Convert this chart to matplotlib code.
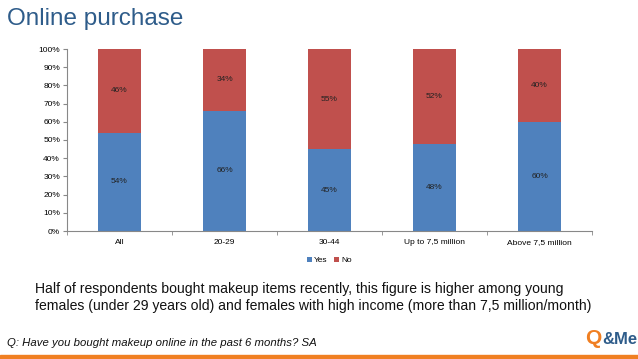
import numpy as np
from matplotlib import pyplot as plt
from matplotlib.ticker import PercentFormatter

plt.rcParams['font.family'] = ['Liberation Sans', 'DejaVu Sans']

categories = ["All", "20-29", "30-44", "Up to 7,5 million", "Above 7,5 million"]
yes_values = [54, 66, 45, 48, 60]
no_values = [46, 34, 55, 52, 40]

blue = "#4F81BD"
red = "#C0504D"

W, H = 638, 359
fig = plt.figure(figsize=(W / 100, H / 100), dpi=100)

# axes placement in pixels
left, right, top, bottom = 67, 592, 49, 231
ax = fig.add_axes([left / W, 1 - bottom / H, (right - left) / W, (bottom - top) / H])

x = np.arange(len(categories))
bw = 0.41
ax.bar(x, yes_values, bw, color=blue, label="Yes")
ax.bar(x, no_values, bw, bottom=yes_values, color=red, label="No")

for i in range(len(categories)):
    ax.text(x[i], yes_values[i] / 2, f"{yes_values[i]}%", ha="center", va="center",
            fontsize=6, color="#222222")
    ax.text(x[i], yes_values[i] + no_values[i] / 2, f"{no_values[i]}%", ha="center",
            va="center", fontsize=6, color="#222222")

ax.set_xlim(-0.5, len(categories) - 0.5)
ax.set_ylim(0, 100)
ax.set_yticks(range(0, 101, 10))
ax.yaxis.set_major_formatter(PercentFormatter(decimals=0))
ax.tick_params(axis="y", labelsize=6, length=3, color="#888888", pad=2)

ax.set_xticks(x)
ax.set_xticklabels(categories)
ax.set_xticks(np.arange(-0.5, len(categories)), minor=True)
ax.tick_params(axis="x", which="major", length=0, labelsize=6, pad=6)
ax.tick_params(axis="x", which="minor", length=3, color="#888888")

for s in ["top", "right"]:
    ax.spines[s].set_visible(False)
for s in ["left", "bottom"]:
    ax.spines[s].set_color("#888888")
    ax.spines[s].set_linewidth(0.8)

ax.legend(loc="upper center", bbox_to_anchor=(0.5, -0.1), ncol=2, frameon=False,
          fontsize=6, handlelength=0.6, handleheight=0.6, handletextpad=0.3,
          columnspacing=0.8)

# title
fig.text(7 / W, 1 - 19 / H, "Online purchase", fontsize=17.5, color="#2E5C8A",
         ha="left", va="center")

# commentary
fig.text(35 / W, 1 - 289 / H, "Half of respondents bought makeup items recently, this figure is higher among young",
         fontsize=10.1, ha="left", va="center", color="#111111")
fig.text(35 / W, 1 - 306 / H, "females (under 29 years old) and females with high income (more than 7,5 million/month)",
         fontsize=10.1, ha="left", va="center", color="#111111")

fig.text(7 / W, 1 - 343 / H, "Q: Have you bought makeup online in the past 6 months? SA",
         fontsize=8.2, style="italic", ha="left", va="center", color="#111111")

# logo
fig.text(601 / W, 1 - 339 / H, "Q", fontsize=15, fontweight="bold", color="#F07F22",
         ha="right", va="center")
fig.text(637 / W, 1 - 340 / H, "&Me", fontsize=12, fontweight="bold", color="#2E5C8A",
         ha="right", va="center")

# orange strip at bottom
fig.patches.append(plt.Rectangle((0, 0), 1, 4 / H, transform=fig.transFigure,
                                 color="#F07F22", zorder=5))

fig.savefig("out.png", dpi=100)
